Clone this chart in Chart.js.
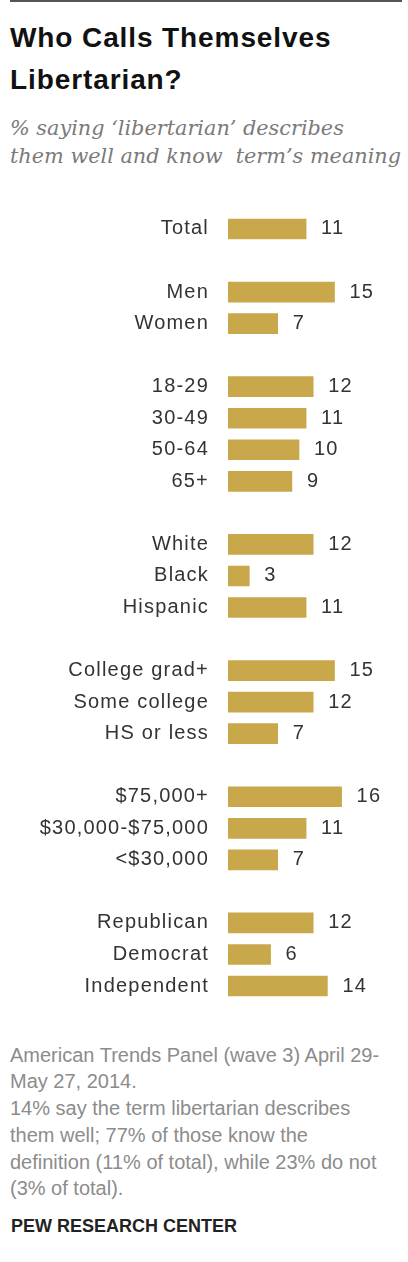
<!DOCTYPE html>
<html>
    <head>
        <title>Who Calls Themselves Libertarian?</title>
        <meta name="viewport" content="width=device-width, initial-scale=1.0">
        <script src="https://cdn.jsdelivr.net/npm/chart.js@4.4.1/dist/chart.umd.min.js"></script>
    </head>
    <body>
        <div class="topline"></div>
        <div id="title">Who Calls Themselves<br>Libertarian?</div>
        <div id="subtitle">% saying ‘libertarian’ describes<br>them well and know  term’s meaning</div>
        <div class="chart-box">
            <canvas id="myChart" width="408" height="810"></canvas>
        </div>
        <div id="note">American Trends Panel (wave 3) April 29-<br>May 27, 2014.<br>14% say the term libertarian describes<br>them well; 77% of those know the<br>definition (11% of total), while 23% do not<br>(3% of total).</div>
        <div id="source">PEW RESEARCH CENTER</div>
        <script>
            // groups separated by an empty row
            var labels = ['Total', '',
                'Men', 'Women', '',
                '18-29', '30-49', '50-64', '65+', '',
                'White', 'Black', 'Hispanic', '',
                'College grad+', 'Some college', 'HS or less', '',
                '$75,000+', '$30,000-$75,000', '<$30,000', '',
                'Republican', 'Democrat', 'Independent'];
            var values = [11, null,
                15, 7, null,
                12, 11, 10, 9, null,
                12, 3, 11, null,
                15, 12, 7, null,
                16, 11, 7, null,
                12, 6, 14];

            var FONT = '"Liberation Sans", Arial, sans-serif';
            var SPACING = '1.2px';

            // letter spacing for tick labels + value labels
            var spacingPlugin = {
                id: 'spacing',
                beforeDraw: function(chart) { chart.ctx.letterSpacing = SPACING; },
                afterDraw: function(chart) { chart.ctx.letterSpacing = '0px'; }
            };

            // value next to each bar
            var valuePlugin = {
                id: 'values',
                afterDatasetsDraw: function(chart) {
                    var ctx = chart.ctx;
                    var meta = chart.getDatasetMeta(0);
                    ctx.save();
                    ctx.letterSpacing = SPACING;
                    ctx.font = '20px ' + FONT;
                    ctx.fillStyle = '#333333';
                    ctx.textAlign = 'left';
                    ctx.textBaseline = 'middle';
                    meta.data.forEach(function(bar, i) {
                        if (values[i] == null) return;
                        ctx.fillText(values[i], bar.x + 15, bar.y);
                    });
                    ctx.restore();
                }
            };

            var ctx = document.getElementById('myChart').getContext('2d');
            var chart = new Chart(ctx, {
                type: 'bar',
                data: {
                    labels: labels,
                    datasets: [{
                        data: values,
                        backgroundColor: '#C9A84C',
                        barThickness: 20
                    }]
                },
                options: {
                    indexAxis: 'y',
                    responsive: false,
                    animation: false,
                    events: [],
                    layout: { padding: { top: 13.2, bottom: 8.2, left: 0, right: 38 } },
                    plugins: {
                        legend: { display: false },
                        tooltip: { enabled: false }
                    },
                    scales: {
                        x: { display: false, min: 0, max: 20 },
                        y: {
                            grid: { display: false, drawTicks: false },
                            border: { display: false },
                            ticks: {
                                padding: 19,
                                color: '#333333',
                                font: { family: FONT, size: 20 },
                                autoSkip: false
                            },
                            afterFit: function(scale) {
                                scale.width = 228;
                                scale.paddingTop = 0;
                                scale.paddingBottom = 0;
                            }
                        }
                    }
                },
                plugins: [spacingPlugin, valuePlugin]
            });
        </script>
    </body>
    <style>
        body {
            margin: 0;
            width: 408px;
            height: 1262px;
            position: relative;
            background: #ffffff;
            overflow: hidden;
        }
        .topline {
            position: absolute;
            left: 10px; top: 0;
            width: 392px; height: 2px;
            background: #555555;
        }
        #title {
            position: absolute;
            left: 10px; top: 17px;
            font-family: "Liberation Sans", Arial, sans-serif;
            font-weight: bold;
            font-size: 28px;
            letter-spacing: 0.9px;
            line-height: 42.4px;
            color: #111111;
        }
        #subtitle {
            position: absolute;
            left: 10px; top: 114px;
            font-family: "DejaVu Serif", serif;
            font-style: italic;
            font-size: 20.8px;
            line-height: 28px;
            color: #7a7a7a;
            white-space: pre;
        }
        .chart-box {
            position: absolute;
            left: 0; top: 200px;
            width: 408px; height: 810px;
        }
        #note {
            position: absolute;
            left: 10px; top: 1041.5px;
            font-family: "Liberation Sans", Arial, sans-serif;
            font-size: 20px;
            line-height: 26.75px;
            color: #8c8c8c;
            white-space: nowrap;
        }
        #source {
            position: absolute;
            left: 11px; top: 1216px;
            font-family: "Liberation Sans", Arial, sans-serif;
            font-weight: bold;
            font-size: 18px;
            color: #222222;
        }
    </style>
</html>
